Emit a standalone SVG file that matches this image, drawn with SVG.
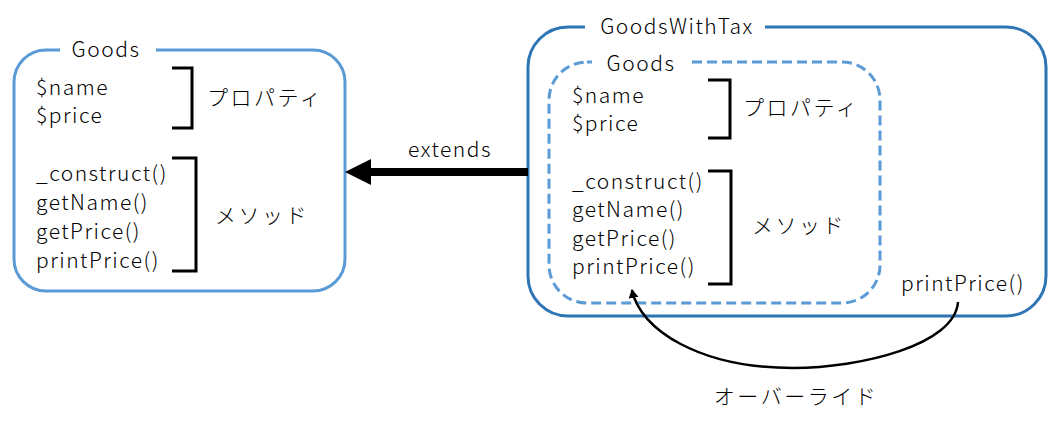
<svg xmlns="http://www.w3.org/2000/svg" width="1064" height="423" viewBox="0 0 1064 423">
<defs>
<style>
text{font-family:"Noto Sans CJK JP","Noto Sans",sans-serif;font-size:21px;font-weight:300;letter-spacing:1.5px;fill:#000}
.jp{letter-spacing:2.5px}
.box{fill:none;stroke:#5b9bd5;stroke-width:3}
.outer{fill:none;stroke:#2e75b6;stroke-width:3}
.dash{fill:none;stroke:#5b9bd5;stroke-width:3;stroke-dasharray:10 5}
.br{fill:none;stroke:#000;stroke-width:3}
.mid{text-anchor:middle}
</style>
<marker id="ah" markerWidth="10" markerHeight="10" refX="8" refY="5" orient="auto" markerUnits="userSpaceOnUse">
<path d="M0,0 L9,5 L0,10 Z" fill="#000"/>
</marker>
</defs>
<rect width="1064" height="423" fill="#fff"/>
<g id="goods">
<rect class="box" x="14" y="50" width="331" height="241" rx="32"/>
<rect x="60" y="40" width="96" height="20" fill="#fff"/>
<text class="mid" x="106" y="57">Goods</text>
<text x="36" y="95">$name</text>
<text x="36" y="123">$price</text>
<path class="br" d="M172,68 H192 V128 H172"/>
<text class="jp" x="207" y="105">プロパティ</text>
<text x="36" y="181">_construct()</text>
<text x="36" y="210">getName()</text>
<text x="36" y="239">getPrice()</text>
<text x="36" y="268">printPrice()</text>
<path class="br" d="M172,158 H196 V271 H172"/>
<text class="jp" x="215" y="223">メソッド</text>
</g>
<g id="goodswithtax">
<rect class="outer" x="528" y="27" width="518" height="289" rx="40"/>
<rect x="585" y="15" width="180" height="24" fill="#fff"/>
<text class="mid" x="677" y="34">GoodsWithTax</text>
<g id="inner-goods">
<rect class="dash" x="549" y="62" width="331" height="241" rx="38"/>
<rect x="592" y="52" width="97" height="20" fill="#fff"/>
<text class="mid" x="641" y="71">Goods</text>
<text x="572" y="103">$name</text>
<text x="572" y="131">$price</text>
<path class="br" d="M708,80 H730 V138 H708"/>
<text class="jp" x="743" y="115">プロパティ</text>
<text x="572" y="189">_construct()</text>
<text x="572" y="217">getName()</text>
<text x="572" y="246">getPrice()</text>
<text x="572" y="274">printPrice()</text>
<path class="br" d="M708,171 H731 V284 H708"/>
<text class="jp" x="752" y="233">メソッド</text>
</g>
<text x="901" y="291">printPrice()</text>
</g>
<g id="connectors">
<line x1="528" y1="172" x2="368" y2="172" stroke="#000" stroke-width="8"/>
<path d="M345,172 L371,159 L371,185 Z" fill="#000"/>
<text class="mid" x="450" y="157">extends</text>
<path d="M958,302 C955,345 860,368 793,368 C700,368 640,330 632,290" fill="none" stroke="#000" stroke-width="2.5" marker-end="url(#ah)"/>
<text class="mid jp" x="796" y="404">オーバーライド</text>
</g>
</svg>
